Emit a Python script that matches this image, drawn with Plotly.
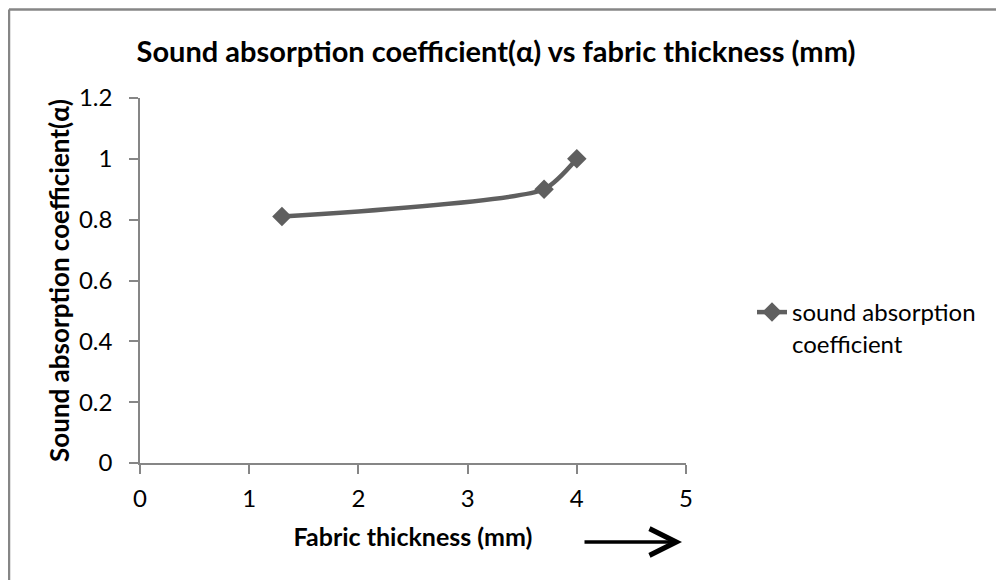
import plotly.graph_objects as go

thickness = [1.3, 3.7, 4.0]
alpha = [0.81, 0.9, 1.0]
series_name = "sound absorption<br>coefficient"
title_text = "Sound absorption coefficient(α) vs fabric thickness (mm)"
x_title = "Fabric thickness (mm)"
y_title = "Sound absorption coefficient(α)"
x_ticks = [0, 1, 2, 3, 4, 5]
y_ticks = [0, 0.2, 0.4, 0.6, 0.8, 1, 1.2]

FONT = "Lato"
GRAY = "#868686"
LINE = "#5f5f5f"

# plot-area geometry in figure pixels (page is offset by 8px body margin)
L, T, W, H = 132, 90, 546, 365

fig = go.Figure()
fig.add_trace(go.Scatter(
    x=thickness, y=alpha, mode="lines+markers", name=series_name,
    line=dict(color=LINE, width=4.5, shape="spline", smoothing=0.6),
    marker=dict(symbol="diamond", size=15, color=LINE),
))

fig.update_layout(
    width=1004, height=580,
    margin=dict(l=L, r=1004 - L - W, t=T, b=580 - T - H),
    paper_bgcolor="white", plot_bgcolor="white",
    font=dict(family=FONT, size=24, color="#000000"),
    title=dict(text="<b>" + title_text + "</b>", x=488 / 1004, xanchor="center",
               y=1 - 44 / 580, yanchor="middle", xref="container", yref="container",
               font=dict(size=29, family=FONT, color="#000000")),
    showlegend=True,
    legend=dict(x=744 / 1004, y=1 - 282 / 580, xref="container", yref="container",
                xanchor="left", yanchor="top", font=dict(size=24, family=FONT),
                bgcolor="rgba(0,0,0,0)", valign="top"),
    xaxis=dict(range=[0, 5], tickvals=x_ticks, showgrid=False, zeroline=False,
               showline=True, linecolor=GRAY, linewidth=1.5,
               ticks="outside", ticklen=9, tickcolor=GRAY, tickwidth=1.5,
               tickfont=dict(size=24, family=FONT), ticklabelstandoff=4,
               title=dict(text="<b>" + x_title + "</b>", font=dict(size=25, family=FONT), standoff=18)),
    yaxis=dict(range=[0, 1.2], tickvals=y_ticks, showgrid=False, zeroline=False,
               showline=True, linecolor=GRAY, linewidth=1.5,
               ticks="outside", ticklen=9, tickcolor=GRAY, tickwidth=1.5,
               tickfont=dict(size=24, family=FONT), ticklabelstandoff=12,
               title=dict(text="<b>" + y_title + "</b>", font=dict(size=26, family=FONT), standoff=2)),
)

# outer chart border (top and left edges visible)
bx = (1 - L) / W
by = 1 + (T - 1.5) / H
fig.add_shape(type="line", xref="paper", yref="paper", x0=bx, x1=2.0, y0=by, y1=by,
              line=dict(color=GRAY, width=2.5))
fig.add_shape(type="line", xref="paper", yref="paper", x0=bx, x1=bx, y0=-0.5, y1=by,
              line=dict(color=GRAY, width=2.5))

# arrow next to x-axis title
fig.add_annotation(xref="paper", yref="paper", x=(674 - L) / W, y=-(534 - T - H) / H,
                   ax=-99, ay=0, axref="pixel", ayref="pixel",
                   text="", showarrow=True, arrowhead=5, arrowsize=1.5, arrowwidth=3.5, arrowcolor="#000000")

fig.write_html("out.html")
